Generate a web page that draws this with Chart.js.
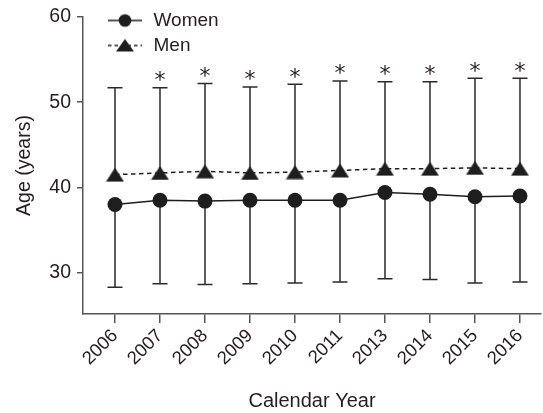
<!DOCTYPE html>
<html>
<head>
<meta charset="utf-8">
<script src="https://cdn.jsdelivr.net/npm/chart.js@4.4.1/dist/chart.umd.min.js"></script>
<style>
  html, body { margin: 0; padding: 0; background: #ffffff; }
  canvas { display: block; }
</style>
</head>
<body>
<canvas id="chart" width="543" height="413"></canvas>
<script>
// Mean age by calendar year, with one-sided SD bars (women down, men up)
const years = ['2006', '2007', '2008', '2009', '2010', '2011', '2013', '2014', '2015', '2016'];
const womenMean = [38.0, 38.5, 38.4, 38.5, 38.5, 38.5, 39.4, 39.2, 38.9, 39.0];
const womenLower = [28.3, 28.7, 28.6, 28.7, 28.8, 28.9, 29.3, 29.2, 28.8, 28.9];
const menMean = [41.5, 41.7, 41.9, 41.7, 41.8, 42.0, 42.2, 42.2, 42.3, 42.2];
const menUpper = [51.7, 51.7, 52.2, 51.8, 52.1, 52.5, 52.4, 52.4, 52.8, 52.8];
const menSignificant = [false, true, true, true, true, true, true, true, true, true];
const yTicks = [30, 40, 50, 60];

const INK = '#1e1e1e';
const TEXT = '#231f20';
const AXIS = '#555555';
const FONT = "'Liberation Sans', Arial, Helvetica, sans-serif";

// Filled triangle marker, centred on its bounding box
function triangleImage(w, h) {
  const c = document.createElement('canvas');
  c.width = w; c.height = h;
  const g = c.getContext('2d');
  g.fillStyle = INK;
  g.beginPath();
  g.moveTo(w / 2, 0.5);
  g.lineTo(w - 0.5, h - 0.5);
  g.lineTo(0.5, h - 0.5);
  g.closePath();
  g.fill();
  return c;
}

// Legend symbols: line segment with the series marker in the middle
function legendSymbol(kind) {
  const w = 38, h = 18;
  const c = document.createElement('canvas');
  c.width = w; c.height = h;
  const g = c.getContext('2d');
  g.strokeStyle = INK;
  g.fillStyle = INK;
  g.lineWidth = 1.5;
  g.beginPath();
  if (kind === 'dashed') g.setLineDash([3.5, 3]);
  g.moveTo(2, h / 2);
  g.lineTo(w - 2, h / 2);
  g.stroke();
  g.setLineDash([]);
  if (kind === 'dashed') {
    g.beginPath();
    g.moveTo(w / 2, 2.5);
    g.lineTo(w / 2 + 9, h - 3);
    g.lineTo(w / 2 - 9, h - 3);
    g.closePath();
    g.fill();
  } else {
    g.beginPath();
    g.arc(w / 2, h / 2, 6.3, 0, Math.PI * 2);
    g.fill();
  }
  return c;
}

const menMarker = triangleImage(19, 15);
const legendImages = [legendSymbol('solid'), legendSymbol('dashed')];

// Vertical SD bars with end caps, drawn beneath lines and markers
const errorBars = {
  id: 'errorBars',
  beforeDatasetsDraw(chart) {
    const { ctx } = chart;
    const yScale = chart.scales.y;
    ctx.save();
    ctx.strokeStyle = '#2a2a2a';
    ctx.lineWidth = 1.5;
    chart.data.datasets.forEach((ds, di) => {
      const meta = chart.getDatasetMeta(di);
      meta.data.forEach((pt, i) => {
        const y0 = yScale.getPixelForValue(ds.data[i].y);
        const y1 = yScale.getPixelForValue(ds.barEnd[i]);
        ctx.beginPath();
        ctx.moveTo(pt.x, y0);
        ctx.lineTo(pt.x, y1);
        ctx.moveTo(pt.x - 7.5, y1);
        ctx.lineTo(pt.x + 7.5, y1);
        ctx.stroke();
      });
    });
    ctx.restore();
  }
};

// Significance asterisks above the men's upper bars
const asterisks = {
  id: 'asterisks',
  afterDatasetsDraw(chart) {
    const { ctx } = chart;
    const yScale = chart.scales.y;
    const meta = chart.getDatasetMeta(1);
    ctx.save();
    ctx.fillStyle = TEXT;
    ctx.font = "22px 'DejaVu Sans', sans-serif";
    ctx.textAlign = 'center';
    ctx.textBaseline = 'alphabetic';
    meta.data.forEach((pt, i) => {
      if (!menSignificant[i]) return;
      const yCap = yScale.getPixelForValue(menUpper[i]);
      ctx.fillText('*', pt.x, yCap - 0.5);
    });
    ctx.restore();
  }
};

// Legend sits inside the plot, upper left
const legendPlacement = {
  id: 'legendPlacement',
  afterLayout(chart) {
    const lg = chart.legend;
    if (!lg) return;
    const w = lg.width, h = lg.height;
    lg.left = 100; lg.top = 5;
    lg.right = lg.left + w; lg.bottom = lg.top + h;
  }
};

const toPoints = arr => arr.map((y, i) => ({ x: i, y }));

new Chart(document.getElementById('chart'), {
  type: 'line',
  data: {
    datasets: [
      {
        label: 'Women',
        data: toPoints(womenMean),
        barEnd: womenLower,
        borderColor: INK,
        borderWidth: 1.5,
        pointStyle: 'circle',
        pointRadius: 7.5,
        pointBackgroundColor: INK,
        pointBorderColor: INK,
        pointBorderWidth: 0,
        tension: 0,
        fill: false
      },
      {
        label: 'Men',
        data: toPoints(menMean),
        barEnd: menUpper,
        borderColor: INK,
        borderWidth: 1.5,
        borderDash: [4.5, 3.5],
        pointStyle: menMarker,
        pointRadius: 8,
        tension: 0,
        fill: false
      }
    ]
  },
  options: {
    responsive: false,
    animation: false,
    devicePixelRatio: 1,
    layout: { autoPadding: false, padding: { top: 17, right: 2, left: 0, bottom: 0 } },
    plugins: {
      tooltip: { enabled: false },
      legend: {
        position: 'chartArea',
        align: 'start',
        labels: {
          usePointStyle: true,
          pointStyleWidth: 38,
          padding: 6,
          color: TEXT,
          font: { family: FONT, size: 19 },
          generateLabels(chart) {
            const items = Chart.defaults.plugins.legend.labels.generateLabels(chart);
            items.forEach((it, i) => { it.pointStyle = legendImages[i]; });
            return items;
          }
        }
      }
    },
    scales: {
      x: {
        type: 'linear',
        min: -0.711,
        max: 9.467,
        afterBuildTicks(scale) { scale.ticks = years.map((_, i) => ({ value: i })); },
        afterFit(scale) {
          scale.height = 99;
          scale.paddingLeft = 0;
          scale.paddingRight = 0;
        },
        grid: { drawOnChartArea: false, drawTicks: true, tickLength: 9, color: AXIS, lineWidth: 1.5 },
        border: { display: true, color: AXIS, width: 1.5 },
        ticks: {
          autoSkip: false,
          minRotation: 45,
          maxRotation: 45,
          padding: 2,
          color: TEXT,
          font: { family: FONT, size: 18.5 },
          callback: v => years[v]
        },
        title: {
          display: true,
          text: 'Calendar Year',
          color: TEXT,
          font: { family: FONT, size: 20 },
          padding: { top: 4, bottom: 0 }
        }
      },
      y: {
        min: 25.15,
        max: 60,
        afterBuildTicks(scale) { scale.ticks = yTicks.map(v => ({ value: v })); },
        afterFit(scale) {
          scale.width = 83;
          scale.paddingTop = 0;
          scale.paddingBottom = 0;
        },
        grid: { drawOnChartArea: false, drawTicks: true, tickLength: 6, color: AXIS, lineWidth: 1.5 },
        border: { display: true, color: AXIS, width: 1.5 },
        ticks: {
          padding: 6,
          color: TEXT,
          font: { family: FONT, size: 19.5 }
        },
        title: {
          display: true,
          text: 'Age (years)',
          color: TEXT,
          font: { family: FONT, size: 19.5 },
          padding: { top: 13, bottom: 0 }
        }
      }
    }
  },
  plugins: [errorBars, asterisks, legendPlacement]
});
</script>
</body>
</html>
